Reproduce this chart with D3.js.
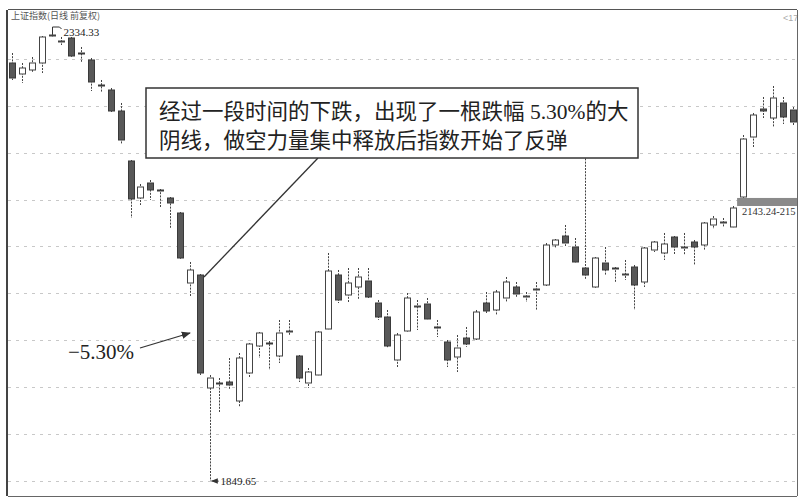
<!DOCTYPE html>
<html><head><meta charset="utf-8">
<script src="https://cdn.jsdelivr.net/npm/d3@7"></script>
<style>html,body{margin:0;padding:0;background:#fff}svg{display:block}</style>
</head><body>
<script>
// ---- data (prices) ----
const openP  = [2295.90,2284.16,2288.43,2295.90,2324.72,2318.32,2322.59,2306.57,2299.10,2272.41,
                2267.07,2244.65,2191.28,2151.78,2167.79,2160.32,2151.78,2135.76,2061.03,2069.57,
                1948.93,1954.27,1955.34,1935.06,1964.95,1993.77,1996.98,1983.10,2008.72,1983.10,
                1954.27,1962.81,2011.92,2069.57,2048.22,2056.76,2063.17,2039.68,2024.73,1978.83,
                2009.79,2035.41,2038.61,2014.06,1998.04,1982.03,2002.31,2001.25,2039.68,2032.21,
                2045.02,2056.76,2046.08,2053.56,2058.90,2101.60,2111.21,2099.46,2077.04,2056.76,
                2082.38,2077.04,2069.57,2078.11,2062.10,2096.26,2093.06,2110.14,2098.40,2104.80,
                2101.60,2122.95,2125.09,2120.82,2152.84,2216.90,2246.79,2237.18,2253.20,2245.72];
const highP  = [2306.57,2295.90,2302.30,2324.72,2334.33,2323.66,2323.66,2312.98,2301.24,2277.75,
                2269.21,2253.20,2192.34,2166.72,2170.99,2161.38,2152.84,2136.83,2083.45,2070.64,
                1962.81,1959.61,1980.96,1986.30,1996.98,2008.72,1999.11,2021.53,2021.53,1984.17,
                1970.29,2009.79,2093.06,2074.91,2077.04,2077.04,2077.04,2042.88,2032.21,2007.65,
                2050.36,2042.88,2045.02,2021.53,2000.18,2005.52,2014.06,2032.21,2051.42,2053.56,
                2067.44,2062.10,2051.42,2062.10,2103.73,2108.00,2122.95,2109.07,2200.88,2088.79,
                2099.46,2078.11,2085.59,2080.25,2099.46,2105.87,2114.41,2111.21,2114.41,2106.94,
                2126.15,2132.56,2130.42,2143.24,2219.03,2242.52,2259.60,2271.34,2259.60,2248.92];
const lowP   = [2277.75,2274.55,2285.22,2285.22,2323.66,2315.11,2302.30,2296.97,2266.01,2264.94,
                2243.59,2209.42,2130.42,2144.30,2149.64,2142.17,2119.75,2085.59,2046.08,1962.81,
                1849.65,1923.31,1946.80,1928.65,1959.61,1980.96,1968.15,1975.62,2005.52,1955.34,
                1948.93,1961.75,2010.85,2039.68,2039.68,2042.88,2045.02,2021.53,1991.64,1971.35,
                2008.72,2010.85,2021.53,2003.38,1971.35,1966.02,1992.71,2000.18,2029.00,2026.87,
                2040.75,2046.08,2040.75,2032.21,2057.83,2098.40,2100.53,2082.38,2065.30,2055.69,
                2069.57,2061.03,2064.23,2032.21,2056.76,2094.13,2085.59,2090.92,2090.92,2080.25,
                2096.26,2118.68,2120.82,2119.75,2151.82,2206.22,2237.18,2227.57,2230.78,2229.71];
const closeP = [2279.88,2290.56,2295.90,2323.66,2325.79,2319.39,2303.37,2305.51,2275.61,2271.34,
                2244.65,2213.69,2150.71,2163.52,2160.32,2159.25,2146.44,2087.72,2074.91,1964.95,
                1959.61,1953.21,1952.14,1980.96,1995.91,2007.65,1995.91,2007.65,2009.79,1959.61,
                1966.02,2008.72,2073.84,2042.88,2061.03,2067.44,2046.08,2024.73,1993.77,2005.52,
                2045.02,2036.48,2022.60,2012.99,1978.83,1991.64,1995.91,2030.07,2031.14,2051.42,
                2062.10,2049.29,2047.15,2054.63,2101.60,2106.94,2103.73,2083.45,2069.57,2087.72,
                2074.91,2075.98,2070.64,2058.90,2098.40,2104.80,2102.67,2099.46,2099.46,2099.46,
                2125.09,2129.36,2126.15,2141.10,2214.76,2240.38,2244.65,2258.53,2238.25,2232.91];
const days = d3.range(openP.length);
const gridValues = [1850,1900,1950,2000,2050,2100,2150,2200,2250,2300];
const gapRange = [2143.24, 2151.82];
const title = "上证指数(日线 前复权)";
const highLabel = "2334.33", lowLabel = "1849.65", gapLabel = "2143.24-215";
const dropLabel = "−5.30%";
const noteLines = ["经过一段时间的下跌，出现了一根跌幅 5.30%的大", "阴线，做空力量集中释放后指数开始了反弹"];

// ---- drawing ----
const W = 800, H = 499;
const svg = d3.select("body").append("svg").attr("width", W).attr("height", H);
const L = 8, R = 797, T = 10, B = 496;
svg.append("defs").append("clipPath").attr("id","plot")
  .append("rect").attr("x",L).attr("y",T).attr("width",R-L).attr("height",B-T);
const mk = svg.select("defs").append("marker").attr("id","ah").attr("viewBox","0 0 10 10")
  .attr("refX",9).attr("refY",5).attr("markerWidth",7).attr("markerHeight",7).attr("orient","auto");
mk.append("path").attr("d","M0,1L10,5L0,9z").attr("fill","#333");

const x = d3.scalePoint().domain(days).range([12, 792.5]);
const y = d3.scaleLinear().domain([1849.65, 2334.33]).range([481, 27]);

const g = svg.append("g").attr("clip-path","url(#plot)");
// gridlines
g.selectAll("line.grid").data(gridValues).join("line")
  .attr("x1",L).attr("x2",R).attr("y1",d=>Math.round(y(d))+0.5).attr("y2",d=>Math.round(y(d))+0.5)
  .attr("stroke","#c8c8c8").attr("stroke-width",1).attr("stroke-dasharray","3,5");

// gap bar
g.append("rect").attr("x", x(74)-6).attr("width", R - x(74) + 6)
  .attr("y", y(gapRange[1])).attr("height", y(gapRange[0]) - y(gapRange[1]))
  .attr("fill","#8a8a8a");
g.append("text").attr("x", x(74)-1).attr("y", y(gapRange[0])+9)
  .attr("font-family","Liberation Serif").attr("font-size",10.5).attr("fill","#333").text(gapLabel);

// candles
const bw = 6;
const cg = g.selectAll("g.c").data(days).join("g");
cg.append("line")
  .attr("x1",i=>Math.round(x(i))+0.5).attr("x2",i=>Math.round(x(i))+0.5)
  .attr("y1",i=>y(highP[i])).attr("y2",i=>y(lowP[i]))
  .attr("stroke","#444").attr("stroke-width",1).attr("stroke-dasharray","2,1.2");
cg.append("rect")
  .attr("x",i=>Math.round(x(i))-bw/2+0.5).attr("width",bw)
  .attr("y",i=>y(Math.max(openP[i],closeP[i])))
  .attr("height",i=>Math.max(1, y(Math.min(openP[i],closeP[i])) - y(Math.max(openP[i],closeP[i]))))
  .attr("fill",i=>closeP[i]>=openP[i] ? "#fff" : "#585858")
  .attr("stroke",i=>closeP[i]>=openP[i] ? "#444" : "#3a3a3a").attr("stroke-width",1);

// high marker
const hx = Math.round(x(4))+0.5, hy = y(highP[4]);
g.append("path").attr("d",`M${hx},${hy+7}V${hy}H${hx+7}M${hx+7},${hy}l2,2`)
  .attr("fill","none").attr("stroke","#333").attr("stroke-width",1);
g.append("text").attr("x",hx+11).attr("y",hy+9).attr("font-family","Liberation Serif")
  .attr("font-size",11).attr("fill","#222").text(highLabel);

// low marker
const lx = Math.round(x(20))+0.5, ly = y(lowP[20]);
g.append("line").attr("x1",lx+8).attr("x2",lx+1).attr("y1",ly).attr("y2",ly)
  .attr("stroke","#333").attr("marker-end","url(#ah)");
g.append("text").attr("x",lx+10).attr("y",ly+4).attr("font-family","Liberation Serif")
  .attr("font-size",11).attr("fill","#222").text(lowLabel);

// title and corner text
svg.append("text").attr("x",11).attr("y",19).attr("font-family","Noto Sans CJK SC")
  .attr("font-size",9).attr("fill","#555").text(title);
svg.append("text").attr("x",783).attr("y",21).attr("font-family","Liberation Sans")
  .attr("font-size",9).attr("fill","#aaa").text("<17");

// frame
svg.append("line").attr("x1",L-1).attr("x2",L-1).attr("y1",T).attr("y2",B).attr("stroke","#444").attr("stroke-width",2);
svg.append("line").attr("x1",L).attr("x2",R).attr("y1",T-0.5).attr("y2",T-0.5).attr("stroke","#555").attr("stroke-width",1);
svg.append("line").attr("x1",R+0.5).attr("x2",R+0.5).attr("y1",T).attr("y2",B).attr("stroke","#666").attr("stroke-width",1);
svg.append("line").attr("x1",L).attr("x2",R).attr("y1",B+0.5).attr("y2",B+0.5).attr("stroke","#666").attr("stroke-width",1);

// -5.30% annotation
const bx = Math.round(x(19)) - 10;
svg.append("line").attr("x1",140).attr("y1",348).attr("x2",bx).attr("y2",333)
  .attr("stroke","#333").attr("stroke-width",1.3).attr("marker-end","url(#ah)");
svg.append("text").attr("x",68).attr("y",359).attr("font-family","Liberation Serif")
  .attr("font-size",21).attr("fill","#222").text(dropLabel);

// leader line and note box
svg.append("line").attr("x1",318).attr("y1",158).attr("x2",Math.round(x(19))+4).attr("y2",y(openP[19])+2)
  .attr("stroke","#333").attr("stroke-width",1.3);
svg.append("rect").attr("x",146).attr("y",88).attr("width",492).attr("height",70)
  .attr("fill","#fff").attr("stroke","#333").attr("stroke-width",1.5);
const nt = svg.append("text").attr("font-family","'Liberation Serif','Noto Sans CJK SC'")
  .attr("font-size",21.5).attr("fill","#222");
noteLines.forEach((t,k)=> nt.append("tspan").attr("x",159).attr("y",119 + k*29).text(t));
</script>
</body></html>
